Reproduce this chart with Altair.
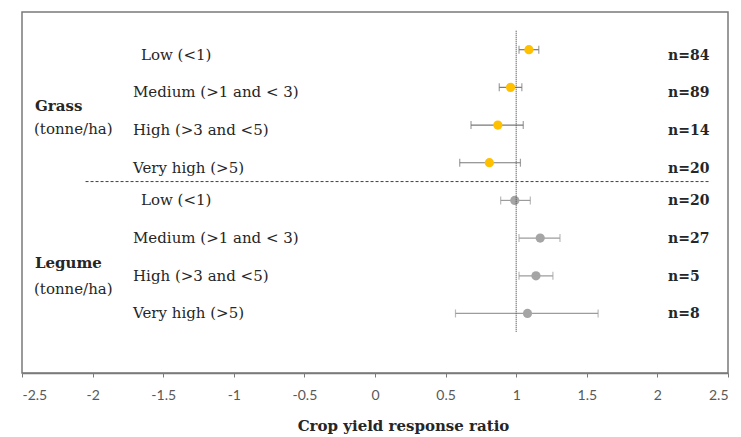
import altair as alt
import pandas as pd

# ---- data ----
groups = ["Grass"] * 4 + ["Legume"] * 4
levels = ["Low (<1)", "Medium (>1 and < 3)", "High (>3 and <5)", "Very high (>5)"] * 2
ratio = [1.09, 0.96, 0.87, 0.81, 0.99, 1.17, 1.14, 1.08]
ci_low = [1.02, 0.88, 0.68, 0.60, 0.89, 1.02, 1.02, 0.57]
ci_high = [1.16, 1.04, 1.05, 1.03, 1.10, 1.31, 1.26, 1.58]
n_obs = [84, 89, 14, 20, 20, 27, 5, 8]
x_ticks = [-2.5, -2, -1.5, -1, -0.5, 0, 0.5, 1, 1.5, 2, 2.5]

group_names = ["Grass", "Legume"]
point_colors = ["#FFC000", "#A5A5A5"]
bar_colors = ["#787878", "#9C9C9C"]

df = pd.DataFrame({
    "group": groups,
    "level": levels,
    "ratio": ratio,
    "lo": ci_low,
    "hi": ci_high,
    "n": [f"n={v}" for v in n_obs],
})
df["row"] = range(1, len(df) + 1)

grp = df.groupby("group", as_index=False)["row"].mean()

ref_line = pd.DataFrame({"x": [1.0], "y": [0.5], "y2": [len(df) + 0.5]})
divider = pd.DataFrame({"x": [-2.05], "x2": [2.37], "y": [4.5]})

W, H = 706, 361
xs = alt.Scale(domain=[-2.5, 2.5], nice=False, zero=False)
ys = alt.Scale(domain=[0, 9.58], nice=False, zero=False, reverse=True)

SERIF = "DejaVu Serif"
TXT = "#262626"

x_axis = alt.Axis(
    values=x_ticks, labelExpr="'' + datum.value", grid=False,
    domainColor="#7a7a7a", domainWidth=1.5, tickColor="#7a7a7a", tickSize=4,
    labelFont="Lato", labelFontSize=14, labelColor="#595959", labelPadding=11,
    title="Crop yield response ratio", titleFont=SERIF, titleFontSize=15,
    titleFontWeight="bold", titleColor=TXT, titleX=381, titleY=52,
    titleBaseline="middle",
)

base = alt.Chart(df)

xenc = alt.X("ratio:Q", scale=xs, axis=x_axis)
yenc = alt.Y("row:Q", scale=ys, axis=None)
bar_color = alt.Color("group:N", scale=alt.Scale(domain=group_names, range=bar_colors), legend=None)

err = base.mark_rule(strokeWidth=1.2).encode(
    x=alt.X("lo:Q", scale=xs, axis=x_axis), x2="hi:Q", y=yenc, color=bar_color,
)
cap_lo = base.mark_tick(orient="vertical", size=8, thickness=1.2).encode(
    x=alt.X("lo:Q", scale=xs, axis=x_axis), y=yenc, color=bar_color,
)
cap_hi = base.mark_tick(orient="vertical", size=8, thickness=1.2).encode(
    x=alt.X("hi:Q", scale=xs, axis=x_axis), y=yenc, color=bar_color,
)
pts = base.mark_point(filled=True, size=85, opacity=1, shape="circle").encode(
    x=xenc, y=yenc,
    fill=alt.Fill("group:N", scale=alt.Scale(domain=group_names, range=point_colors), legend=None),
)

vline = alt.Chart(ref_line).mark_rule(color="#555555", strokeDash=[1, 1], strokeWidth=1.2).encode(
    x=alt.X("x:Q", scale=xs, axis=x_axis),
    y=alt.Y("y:Q", scale=ys, axis=None), y2="y2:Q",
)
hline = alt.Chart(divider).mark_rule(color="#404040", strokeDash=[3, 2], strokeWidth=1).encode(
    x=alt.X("x:Q", scale=xs, axis=x_axis), x2="x2:Q",
    y=alt.Y("y:Q", scale=ys, axis=None),
)


def row_labels(group, dy):
    layers = []
    for is_low, dx in [(True, 8), (False, 0)]:
        cond = f"datum.group == '{group}' && " + ("datum.row % 4 == 1" if is_low else "datum.row % 4 != 1")
        layers.append(
            base.transform_filter(cond).mark_text(
                align="left", baseline="middle", font=SERIF, fontSize=15, color=TXT, dx=dx, dy=dy
            ).encode(x=alt.value(111), y=yenc, text="level:N")
        )
    layers.append(
        base.transform_filter(f"datum.group == '{group}'").mark_text(
            align="left", baseline="middle", font=SERIF, fontSize=14, fontWeight="bold", color=TXT, dy=dy + 1
        ).encode(x=alt.value(646), y=yenc, text="n:N")
    )
    return layers


def group_labels(group, dy_name, dy_unit):
    g = alt.Chart(grp).transform_filter(f"datum.group == '{group}'")
    name = g.mark_text(align="left", baseline="middle", font=SERIF, fontSize=15,
                       fontWeight="bold", color=TXT, dy=dy_name).encode(
        x=alt.value(13), y=alt.Y("row:Q", scale=ys, axis=None), text="group:N")
    unit = g.mark_text(align="left", baseline="middle", font=SERIF, fontSize=15,
                       color=TXT, dy=dy_unit).encode(
        x=alt.value(12), y=alt.Y("row:Q", scale=ys, axis=None), text=alt.value("(tonne/ha)"))
    return [name, unit]


layers = [hline, err, cap_lo, cap_hi, pts, vline]
layers += row_labels("Grass", 5) + row_labels("Legume", 0)
layers += group_labels("Grass", 0, 23) + group_labels("Legume", 6, 32)

chart = alt.layer(*layers).properties(
    width=W, height=H,
    background="white",
    autosize=alt.AutoSizeParams(type="none"),
    padding={"left": 14, "top": 4, "right": 5, "bottom": 64},
).configure_view(stroke="#7a7a7a", strokeWidth=1.5)

chart.save("out.html", embed_options={"renderer": "svg", "actions": False})
